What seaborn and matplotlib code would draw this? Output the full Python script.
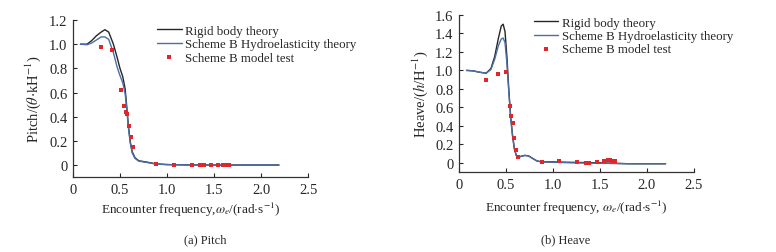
import numpy as np
import pandas as pd
import matplotlib
matplotlib.use("Agg")
import matplotlib.pyplot as plt
import seaborn as sns

# --- data ---
pitch_x = [0.08, 0.15, 0.20, 0.25, 0.30, 0.34, 0.38, 0.43, 0.47, 0.50, 0.53, 0.555, 0.57, 0.59,
           0.61, 0.63, 0.66, 0.70, 0.78, 0.88, 1.00, 1.20, 1.50, 1.80, 2.19]
pitch_rigid = [1.00, 1.00, 1.03, 1.07, 1.10, 1.12, 1.10, 1.00, 0.89, 0.80, 0.73, 0.63, 0.50, 0.32,
               0.19, 0.11, 0.06, 0.035, 0.025, 0.01, 0.004, 0.001, 0.0, 0.0, 0.0]
pitch_hydro = [1.00, 0.995, 1.01, 1.035, 1.06, 1.06, 1.04, 0.93, 0.81, 0.74, 0.68, 0.59, 0.48, 0.31,
               0.18, 0.10, 0.055, 0.032, 0.022, 0.008, 0.003, 0.001, 0.0, 0.0, 0.0]
pitch_test_x = [0.30, 0.42, 0.51, 0.546, 0.56, 0.57, 0.596, 0.617, 0.638, 0.88, 1.07, 1.27,
                1.35, 1.39, 1.47, 1.54, 1.60, 1.62, 1.64, 1.66]
pitch_test_y = [0.975, 0.95, 0.62, 0.486, 0.44, 0.42, 0.32, 0.23, 0.15, 0.005, 0.004, 0.003,
                0.002, 0.002, 0.002, 0.002, 0.002, 0.002, 0.002, 0.002]

heave_x = [0.08, 0.15, 0.22, 0.29, 0.34, 0.38, 0.42, 0.45, 0.47, 0.49, 0.51, 0.53, 0.55, 0.57,
           0.59, 0.61, 0.63, 0.66, 0.70, 0.74, 0.78, 0.83, 0.88, 1.00, 1.20, 1.50, 1.80, 2.20]
heave_rigid = [1.00, 0.995, 0.98, 0.97, 1.02, 1.15, 1.35, 1.48, 1.50, 1.42, 1.15, 0.80, 0.50, 0.30,
               0.15, 0.08, 0.06, 0.07, 0.08, 0.075, 0.05, 0.02, 0.01, 0.01, 0.005, 0.0, -0.01, -0.01]
heave_hydro = [1.00, 0.995, 0.98, 0.97, 1.01, 1.12, 1.27, 1.34, 1.35, 1.30, 1.08, 0.77, 0.49, 0.29,
               0.15, 0.08, 0.06, 0.07, 0.08, 0.075, 0.05, 0.02, 0.01, 0.005, 0.0, -0.005, -0.01, -0.01]
heave_test_x = [0.29, 0.41, 0.50, 0.545, 0.556, 0.571, 0.585, 0.606, 0.63, 0.88, 1.06, 1.26,
                1.35, 1.38, 1.47, 1.54, 1.59, 1.61, 1.63, 1.66]
heave_test_y = [0.90, 0.96, 0.98, 0.62, 0.505, 0.43, 0.27, 0.135, 0.06, 0.01, 0.015, 0.01,
                0.0, 0.0, 0.01, 0.015, 0.025, 0.025, 0.02, 0.02]

RIGID_COLOR = '#262626'
HYDRO_COLOR = '#4a6fa5'
TEST_COLOR = '#e0262b'

sns.set_theme(style="ticks")
plt.rcParams['font.family'] = ['Liberation Serif', 'DejaVu Serif']
plt.rcParams['mathtext.fontset'] = 'stix'
plt.rcParams['axes.edgecolor'] = '#333333'
plt.rcParams['axes.linewidth'] = 0.9

fig = plt.figure(figsize=(7.76, 2.53), dpi=100)
ax1 = fig.add_axes([0.094, 0.296, 0.303, 0.621])
ax2 = fig.add_axes([0.5915, 0.316, 0.3025, 0.621])


def draw(ax, x, rigid, hydro, tx, ty):
    df = pd.DataFrame({'x': x, 'rigid': rigid, 'hydro': hydro})
    sns.lineplot(data=df, x='x', y='rigid', color=RIGID_COLOR, lw=1.0, ax=ax,
                 label='Rigid body theory', sort=False)
    sns.lineplot(data=df, x='x', y='hydro', color=HYDRO_COLOR, lw=1.0, ax=ax,
                 label='Scheme B Hydroelasticity theory', sort=False)
    tdf = pd.DataFrame({'x': tx, 'y': ty})
    sns.scatterplot(data=tdf, x='x', y='y', color=TEST_COLOR, marker='s', s=9,
                    linewidth=0, ax=ax, label='Scheme B model test', zorder=5)
    ax.set_xlim(0, 2.5)
    ax.set_xticks([0, 0.5, 1.0, 1.5, 2.0, 2.5])
    ax.set_xticklabels(['0', '0.5', '1.0', '1.5', '2.0', '2.5'])
    sns.despine(ax=ax)
    ax.tick_params(direction='in', length=3, width=0.8, labelsize=10.5, pad=4)


draw(ax1, pitch_x, pitch_rigid, pitch_hydro, pitch_test_x, pitch_test_y)
ax1.set_ylim(-0.1, 1.2)
ax1.set_yticks([0, 0.2, 0.4, 0.6, 0.8, 1.0, 1.2])
ax1.set_yticklabels(['0', '0.2', '0.4', '0.6', '0.8', '1.0', '1.2'])
ax1.set_ylabel(r'Pitch/($\theta$$\cdot$kH$^{-1}$)', fontsize=10.5, labelpad=4)
ax1.set_xlabel(r'Encounter frequency,$\omega_e$/(rad$\cdot$s$^{-1}$)', fontsize=9.5, labelpad=3)
ax1.legend(loc='upper left', bbox_to_anchor=(0.33, 1.01), frameon=False, fontsize=9.3,
           handlelength=1.9, handletextpad=0.3, borderpad=0, labelspacing=0.1,
           markerscale=1.0)

draw(ax2, heave_x, heave_rigid, heave_hydro, heave_test_x, heave_test_y)
ax2.set_ylim(-0.1, 1.6)
ax2.set_yticks([0, 0.2, 0.4, 0.6, 0.8, 1.0, 1.2, 1.4, 1.6])
ax2.set_yticklabels(['0', '0.2', '0.4', '0.6', '0.8', '1.0', '1.2', '1.4', '1.6'])
ax2.set_ylabel(r'Heave/($h$/H$^{-1}$)', fontsize=10.5, labelpad=4)
ax2.set_xlabel(r'Encounter frequency, $\omega_e$/(rad$\cdot$s$^{-1}$)', fontsize=9.5, labelpad=5)
ax2.legend(loc='upper left', bbox_to_anchor=(0.29, 1.03), frameon=False, fontsize=9.3,
           handlelength=1.9, handletextpad=0.3, borderpad=0, labelspacing=0.1,
           markerscale=1.0)

fig.text(0.265, 0.05, '(a) Pitch', ha='center', va='center', fontsize=9)
fig.text(0.729, 0.05, '(b) Heave', ha='center', va='center', fontsize=9)

fig.savefig('out.png', dpi=100)
